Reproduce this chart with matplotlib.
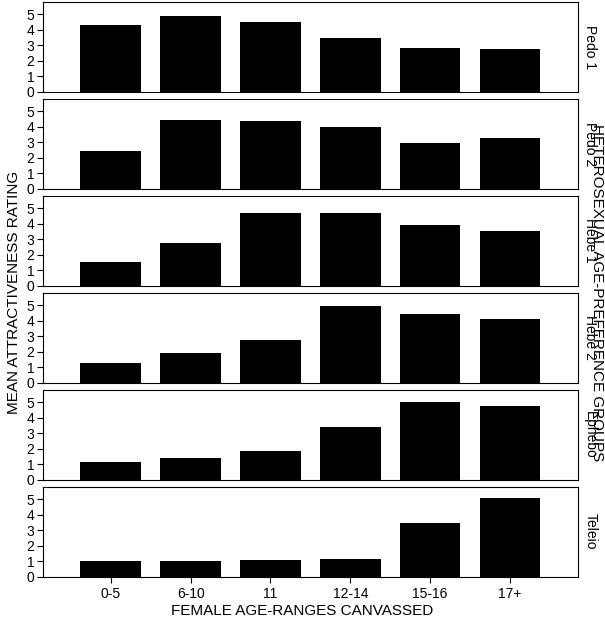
import matplotlib
matplotlib.use("Agg")
import matplotlib.pyplot as plt
import numpy as np

ages = ["0-5", "6-10", "11", "12-14", "15-16", "17+"]
groups = ["Pedo 1", "Pedo 2", "Hebe 1", "Hebe 2", "Ephebo", "Teleio"]
pedo1 = [4.28, 4.87, 4.47, 3.49, 2.83, 2.76]
pedo2 = [2.4, 4.44, 4.37, 3.98, 2.93, 3.26]
hebe1 = [1.5, 2.76, 4.7, 4.7, 3.9, 3.5]
hebe2 = [1.25, 1.9, 2.76, 4.95, 4.4, 4.1]
ephebo = [1.15, 1.4, 1.85, 3.4, 5.0, 4.74]
teleio = [1.0, 1.0, 1.05, 1.15, 3.45, 5.05]
ratings = [pedo1, pedo2, hebe1, hebe2, ephebo, teleio]

plt.rcParams['font.family'] = ['Liberation Sans', 'DejaVu Sans']
fig, axes = plt.subplots(6, 1, figsize=(6.05, 6.22), dpi=100, sharex=True)
fig.subplots_adjust(left=0.071, right=0.955, top=0.997, bottom=0.073, hspace=0.08)

x = np.arange(len(ages))
for ax, name, vals in zip(axes, groups, ratings):
    ax.bar(x, vals, width=0.76, color="black")
    ax.set_ylim(0, 5.8)
    ax.set_xlim(-0.85, 5.85)
    ax.set_yticks([0, 1, 2, 3, 4, 5])
    ax.tick_params(axis="y", labelsize=10, length=4, pad=2)
    ax.tick_params(axis="x", length=0, labelsize=10)
    ax.yaxis.set_label_position("right")
    ax.set_ylabel(name, rotation=270, labelpad=4, fontsize=10, va="bottom")

axes[-1].set_xticks(x)
axes[-1].set_xticklabels(ages)
axes[-1].tick_params(axis="x", length=4)
fig.text(0.5, 0.012, "FEMALE AGE-RANGES CANVASSED", ha="center", fontsize=11)
fig.text(0.012, 0.53, "MEAN ATTRACTIVENESS RATING", va="center", rotation=90, fontsize=11)
fig.text(0.998, 0.53, "HETEROSEXUAL AGE-PREFERENCE GROUPS", va="center", ha="right",
         rotation=270, fontsize=11)

fig.savefig("out.png")
